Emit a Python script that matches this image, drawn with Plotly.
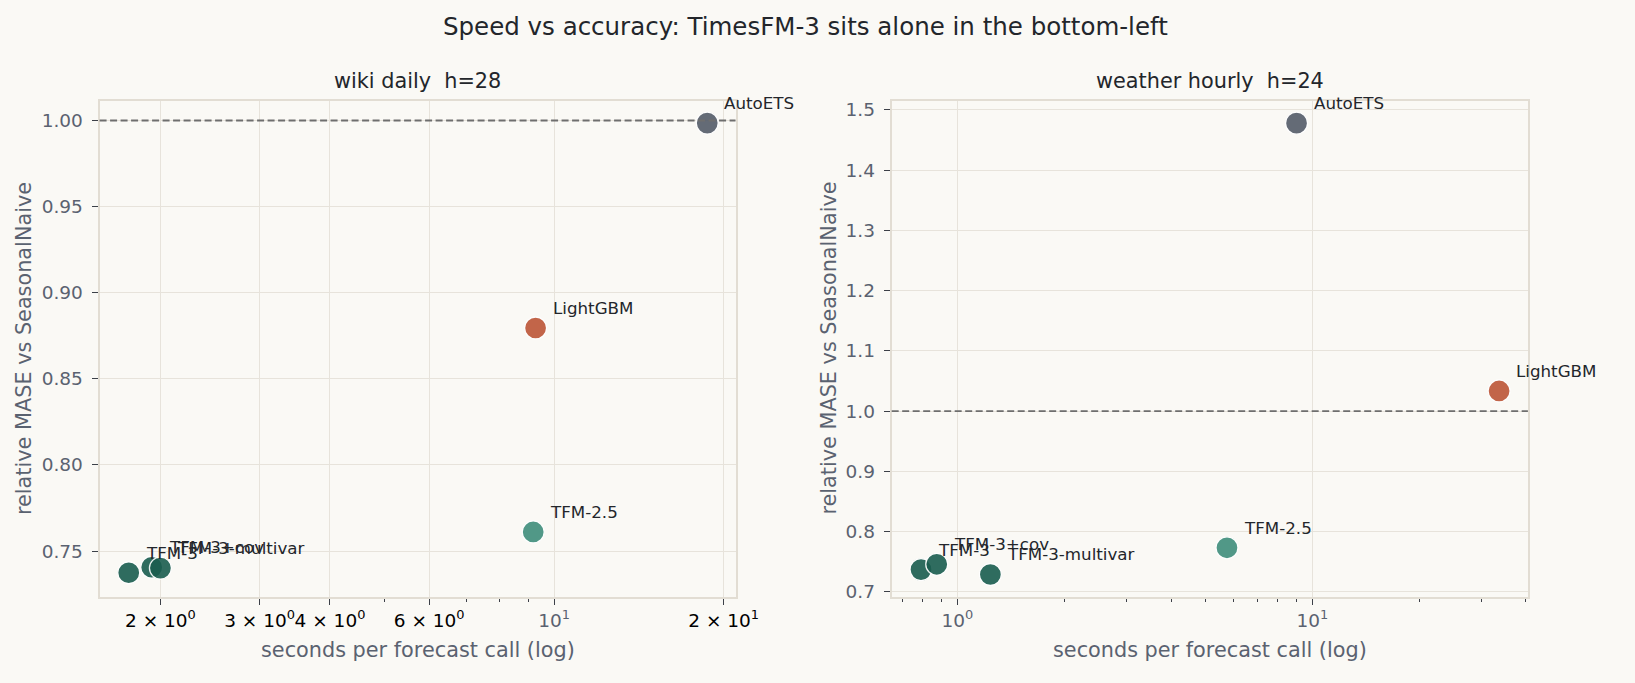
import math
import plotly.graph_objects as go

# --- Data ---
models = ["AutoETS", "LightGBM", "TFM-2.5", "TFM-3", "TFM-3+cov", "TFM-3-multivar"]
model_colors = ["#545c69", "#bc5637", "#3f8e7c", "#1a5d4f", "#1a5d4f", "#1a5d4f"]

wiki_seconds = [18.7, 9.27, 9.18, 1.757, 1.93, 2.0]
wiki_mase = [0.9985, 0.8795, 0.7611, 0.7374, 0.7406, 0.7401]

weather_seconds = [9.03, 33.6, 5.75, 0.79, 0.875, 1.239]
weather_mase = [1.478, 1.0335, 0.7732, 0.737, 0.7458, 0.7289]

wiki_yticks = [0.75, 0.80, 0.85, 0.90, 0.95, 1.00]
weather_yticks = [0.7, 0.8, 0.9, 1.0, 1.1, 1.2, 1.3, 1.4, 1.5]

BG = "#faf9f5"
GRID = "#e7e3db"
SPINE = "#e2ddd3"
TICK = "#5a6270"
INK = "#23262b"
FONT = "DejaVu Sans"

W, H = 1635, 683


def px_x(p):
    return p / W


def px_y(p):
    return 1 - p / H


def sup(base, exp, color=None):
    txt = f"{base}10<sup>{exp}</sup>"
    if color:
        txt = f'<span style="color:{color}">{txt}</span>'
    return txt


fig = go.Figure()

panels = [
    ("x", "y", wiki_seconds, wiki_mase),
    ("x2", "y2", weather_seconds, weather_mase),
]
for xa, ya, secs, mase in panels:
    fig.add_trace(
        go.Scatter(
            x=secs,
            y=mase,
            mode="markers",
            xaxis=xa,
            yaxis=ya,
            marker=dict(
                size=22,
                color=model_colors,
                opacity=0.9,
                line=dict(color="white", width=1.3),
            ),
            showlegend=False,
            hoverinfo="skip",
        )
    )
    # point labels (annotation x on a log axis is given in log10 units)
    for name, sx, sy in zip(models, secs, mase):
        fig.add_annotation(
            x=math.log10(sx),
            y=sy,
            xref=xa,
            yref=ya,
            text=name,
            showarrow=False,
            xanchor="left",
            yanchor="bottom",
            xshift=15,
            yshift=8,
            font=dict(family=FONT, size=16.7, color=INK),
        )

# SeasonalNaive reference line
for xa, ya in [("x", "y"), ("x2", "y2")]:
    fig.add_shape(
        type="line",
        xref=f"{xa} domain",
        yref=ya,
        x0=0,
        x1=1,
        y0=1.0,
        y1=1.0,
        line=dict(color="#6e6e6e", width=1.8, dash="7px,3.5px"),
    )

axis_common = dict(
    showline=True,
    linecolor=SPINE,
    linewidth=2,
    mirror=True,
    gridcolor=GRID,
    gridwidth=1.4,
    zeroline=False,
    ticks="outside",
    ticklen=6,
    tickwidth=1.4,
    tickcolor="#3c4048",
    tickangle=0,
    tickfont=dict(family=FONT, size=18.5, color=TICK),
)

# left x-axis: major at 10, labelled minors (matplotlib style)
left_x_vals = [2, 3, 4, 6, 10, 20]
left_x_text = [
    sup("2 × ", 0, "#000000"),
    sup("3 × ", 0, "#000000"),
    sup("4 × ", 0, "#000000"),
    sup("6 × ", 0, "#000000"),
    sup("", 1),
    sup("2 × ", 1, "#000000"),
]
left_minor = [2, 3, 4, 5, 6, 7, 8, 9, 20]

right_x_vals = [1, 10]
right_x_text = [sup("", 0), sup("", 1)]
right_minor = [0.7, 0.8, 0.9, 2, 3, 4, 5, 6, 7, 8, 9, 20, 30, 40]

fig.update_layout(
    width=W,
    height=H,
    autosize=False,
    paper_bgcolor=BG,
    plot_bgcolor=BG,
    margin=dict(l=0, r=0, t=0, b=0),
    font=dict(family=FONT, color=INK),
    xaxis=dict(
        axis_common,
        type="log",
        domain=[px_x(101), px_x(746)],
        range=[0.193, 1.322],
        tickvals=left_x_vals,
        ticktext=left_x_text,
        minor=dict(
            tickvals=left_minor, ticks="outside", ticklen=3.5, tickcolor="#3c4048",
            showgrid=False,
        ),
        anchor="y",
    ),
    yaxis=dict(
        axis_common,
        domain=[px_y(601.7), px_y(100.7)],
        range=[0.7236, 1.0115],
        tickvals=wiki_yticks,
        ticktext=[f"{v:.2f}" for v in wiki_yticks],
        ticklabelstandoff=5,
        anchor="x",
    ),
    xaxis2=dict(
        axis_common,
        type="log",
        domain=[px_x(904.4), px_x(1549.7)],
        range=[-0.185, 1.6075],
        tickvals=right_x_vals,
        ticktext=right_x_text,
        minor=dict(
            tickvals=right_minor, ticks="outside", ticklen=3.5, tickcolor="#3c4048",
            showgrid=False,
        ),
        anchor="y2",
    ),
    yaxis2=dict(
        axis_common,
        domain=[px_y(601.7), px_y(100.7)],
        range=[0.6923, 1.5153],
        tickvals=weather_yticks,
        ticktext=[f"{v:.1f}" for v in weather_yticks],
        ticklabelstandoff=5,
        anchor="x2",
    ),
)

# titles and axis labels
texts = [
    ("Speed vs accuracy: TimesFM-3 sits alone in the bottom-left", 817, 26, 24.5, INK, 0),
    ("wiki daily  h=28", 423.5, 81, 20.8, INK, 0),
    ("weather hourly  h=24", 1227, 81, 20.8, INK, 0),
    ("seconds per forecast call (log)", 423.5, 656, 20.8, TICK, 0),
    ("seconds per forecast call (log)", 1227, 656, 20.8, TICK, 0),
    ("relative MASE vs SeasonalNaive", 25, 351, 20.8, TICK, -90),
    ("relative MASE vs SeasonalNaive", 841, 351, 20.8, TICK, -90),
]
for txt, cx, cy, size, color, angle in texts:
    fig.add_annotation(
        x=px_x(cx),
        y=px_y(cy),
        xref="paper",
        yref="paper",
        text=txt,
        showarrow=False,
        xanchor="center",
        yanchor="middle",
        textangle=angle,
        font=dict(family=FONT, size=size, color=color),
    )

# page chrome: no body margin, no scrollbars, cream behind the figure
page_js = """
[document.documentElement, document.body].forEach(function (el) {
    el.style.margin = '0';
    el.style.padding = '0';
    el.style.overflow = 'hidden';
    el.style.background = '#faf9f5';
});
"""

fig.write_html(
    "out.html",
    config={"responsive": False, "displayModeBar": False},
    post_script=page_js,
)
